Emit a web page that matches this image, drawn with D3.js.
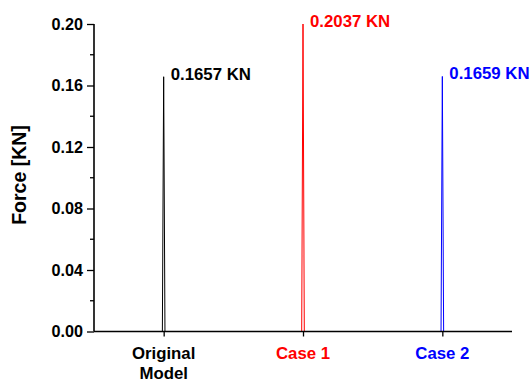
<!DOCTYPE html>
<html><head><meta charset="utf-8">
<script src="https://cdn.jsdelivr.net/npm/d3@7"></script>
<style>
html,body{margin:0;padding:0;background:#fff;}
text{font-family:"Liberation Sans",Arial,sans-serif;font-weight:bold;}
</style></head>
<body><svg id="c" width="529" height="383"></svg>
<script>
const categories = [["Original","Model"],["Case 1"],["Case 2"]];
const values = [0.1657, 0.2037, 0.1659];
const valueLabels = ["0.1657 KN","0.2037 KN","0.1659 KN"];
const colors = ["#000000","#ff0000","#0000ff"];
const yTicks = [0.00,0.04,0.08,0.12,0.16,0.20];
const yMinorTicks = [0.02,0.06,0.10,0.14,0.18];
const yTitle = "Force [KN]";

const svg = d3.select("#c");
const mLeft = 94, mRight = 512, mTop = 24, mBottom = 331.5;
const x = d3.scalePoint().domain(d3.range(values.length)).range([mLeft,mRight]).padding(0.5);
const y = d3.scaleLinear().domain([0,0.2]).range([mBottom,mTop]);

// spikes
const half = 1.3;
values.forEach((v,i)=>{
  const cx = x(i);
  const vy = y(Math.min(v, 0.2));
  svg.append("path")
    .attr("d", `M${cx-half},${y(0)}L${cx},${vy}L${cx+half},${y(0)}`)
    .attr("fill","none").attr("stroke",colors[i]).attr("stroke-width",1);
  svg.append("text").attr("x",cx+7).attr("y",vy+3)
    .attr("font-size",16.8).attr("fill",colors[i]).text(valueLabels[i]);
});

// y axis
const ya = svg.append("g").attr("transform",`translate(${mLeft},0)`)
  .call(d3.axisLeft(y).tickValues(yTicks).tickFormat(d3.format(".2f")).tickSize(7).tickPadding(4));
ya.select(".domain").remove();
ya.selectAll("line").attr("stroke","#000").attr("stroke-width",1.3);
ya.selectAll("text").attr("font-size",16.2).attr("fill","#000").attr("font-family",null);
ya.selectAll(".minor").data(yMinorTicks).enter().append("line")
  .attr("x1",-4).attr("x2",0).attr("y1",d=>y(d)).attr("y2",d=>y(d))
  .attr("stroke","#000").attr("stroke-width",1.3);
svg.append("line").attr("x1",mLeft).attr("x2",mLeft).attr("y1",mTop).attr("y2",mBottom)
  .attr("stroke","#000").attr("stroke-width",1.6);

// x axis
const xa = svg.append("g").attr("transform",`translate(0,${mBottom})`)
  .call(d3.axisBottom(x).tickSize(5).tickFormat(""));
xa.select(".domain").remove();
xa.selectAll("line").attr("stroke","#000").attr("stroke-width",1.3);
svg.append("line").attr("x1",mLeft).attr("x2",mRight).attr("y1",mBottom).attr("y2",mBottom)
  .attr("stroke","#000").attr("stroke-width",1.6);
categories.forEach((lines,i)=>{
  const t = svg.append("text").attr("text-anchor","middle").attr("font-size",16.8).attr("fill",colors[i]);
  lines.forEach((l,j)=>{
    t.append("tspan").attr("x",x(i)).attr("y",358.5+j*20).text(l);
  });
});

// y title
svg.append("text").attr("transform","translate(26,175) rotate(-90)")
  .attr("text-anchor","middle").attr("font-size",19.5).attr("fill","#000").text(yTitle);
</script></body></html>
